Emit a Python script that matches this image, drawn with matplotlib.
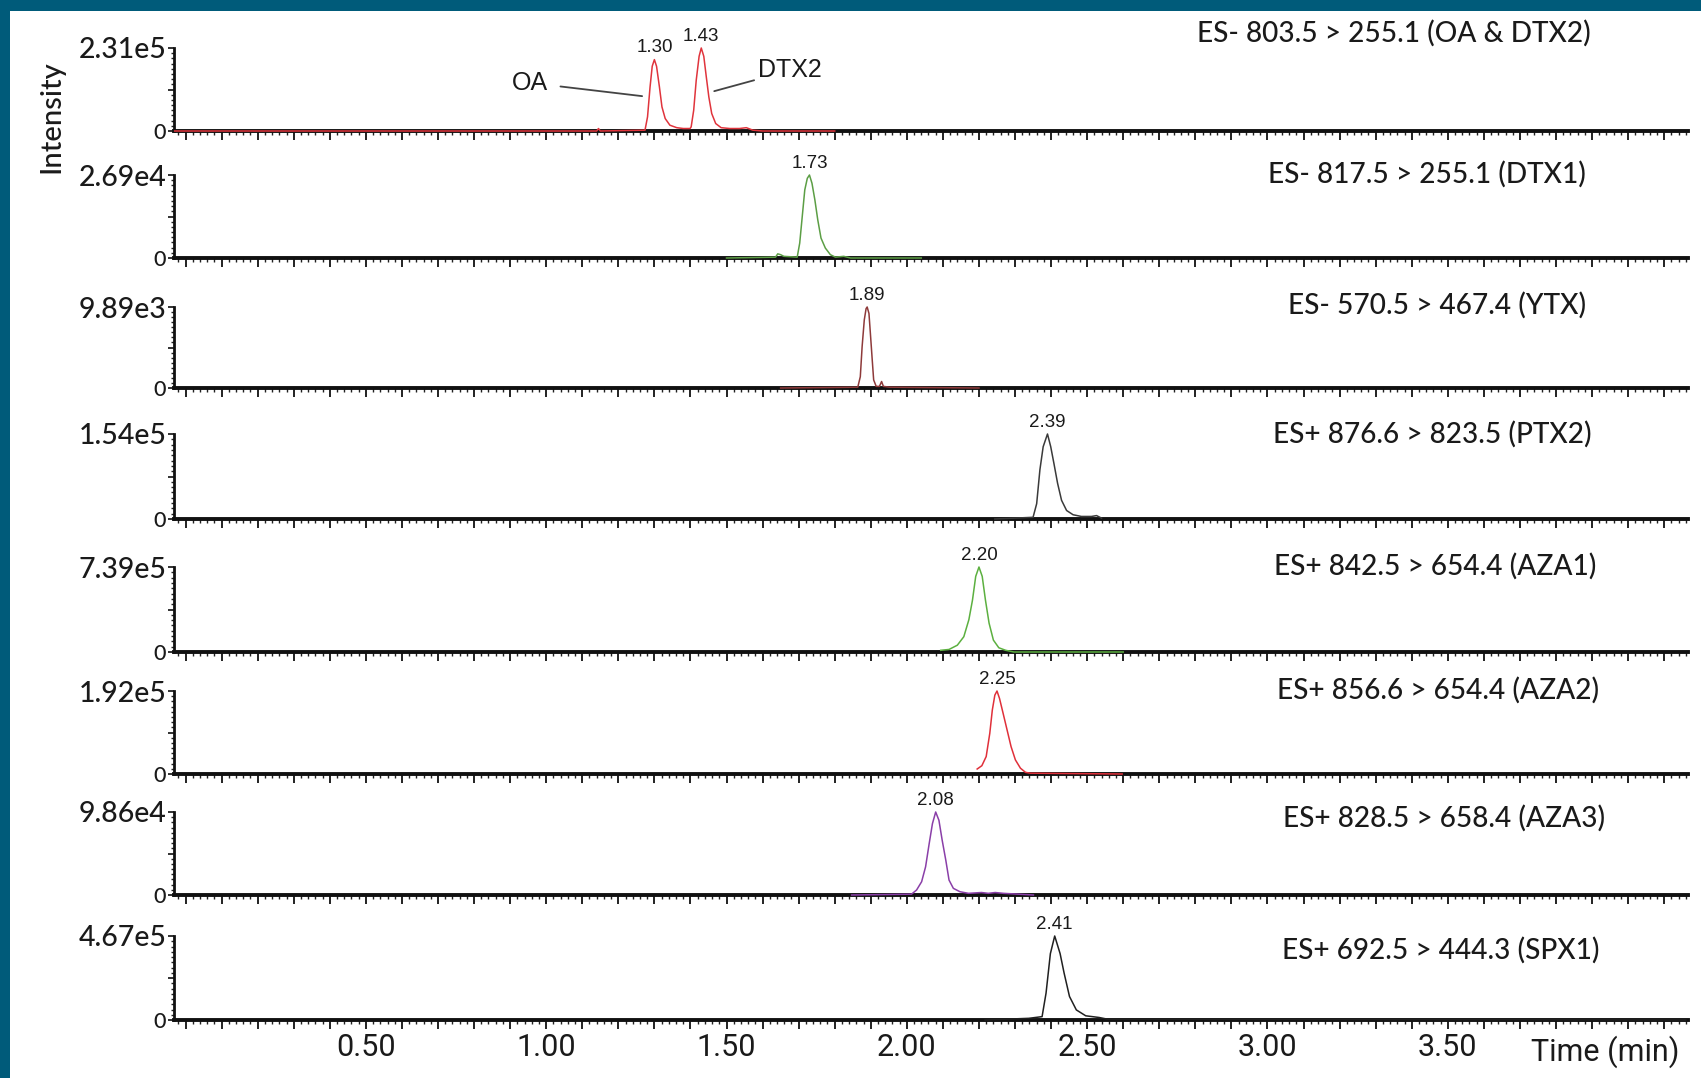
import matplotlib
matplotlib.use("Agg")
import numpy as np
import matplotlib.pyplot as plt
from matplotlib.patches import Rectangle
from matplotlib.ticker import MultipleLocator, FixedLocator
from matplotlib.transforms import blended_transform_factory

# MRM channels, full-scale intensity of each panel
channels = [
    "ES- 803.5 > 255.1 (OA & DTX2)",
    "ES- 817.5 > 255.1 (DTX1)",
    "ES- 570.5 > 467.4 (YTX)",
    "ES+ 876.6 > 823.5 (PTX2)",
    "ES+ 842.5 > 654.4 (AZA1)",
    "ES+ 856.6 > 654.4 (AZA2)",
    "ES+ 828.5 > 658.4 (AZA3)",
    "ES+ 692.5 > 444.3 (SPX1)",
]
full_scale = [2.31e5, 2.69e4, 9.89e3, 1.54e5, 7.39e5, 1.92e5, 9.86e4, 4.67e5]
trace_colors = ["#e0343c", "#5c9e45", "#8e3a3a", "#3a3a3a",
                "#5cb040", "#e0303a", "#8a3fa8", "#202020"]

# retention times of the labelled peaks (min)
peak_rt = [[1.30, 1.43], [1.73], [1.89], [2.39], [2.20], [2.25], [2.08], [2.41]]

# traces: time (min) and intensity in % of full scale
oa_dtx2_t = [-0.03, 0.50, 1.00, 1.140, 1.145, 1.150, 1.274, 1.281, 1.288, 1.294, 1.300,
             1.306, 1.314, 1.321, 1.330, 1.343, 1.362, 1.380, 1.399, 1.402, 1.409, 1.416,
             1.424, 1.430, 1.437, 1.444, 1.451, 1.459, 1.470, 1.485, 1.509, 1.536, 1.555,
             1.573, 1.60, 1.80]
oa_dtx2_i = [0, 0, 0, 0, 3, 0, 1, 17, 53, 78, 86,
             78, 53, 29, 15, 7, 4, 3, 3, 5, 25, 61,
             90, 100, 90, 65, 41, 21, 9, 4, 3, 3, 4,
             1, 0, 0]

dtx1_t = [1.50, 1.636, 1.642, 1.650, 1.659, 1.696, 1.703, 1.710, 1.717, 1.724, 1.730,
          1.737, 1.745, 1.753, 1.762, 1.774, 1.788, 1.802, 1.825, 1.844, 2.04]
dtx1_i = [0, 1, 5, 4, 2, 1, 18, 50, 82, 96, 100,
          90, 70, 46, 24, 12, 4, 1, 2, 0, 0]

ytx_t = [1.65, 1.864, 1.871, 1.876, 1.882, 1.887, 1.890, 1.895, 1.899, 1.904, 1.908,
         1.915, 1.924, 1.930, 1.935, 1.952, 2.20]
ytx_i = [0, 1, 14, 51, 84, 98, 100, 92, 67, 35, 10,
         2, 2, 8, 2, 1, 0]

ptx2_t = [2.244, 2.350, 2.360, 2.369, 2.378, 2.390, 2.399, 2.408, 2.418, 2.429, 2.443,
          2.461, 2.484, 2.512, 2.526, 2.540]
ptx2_i = [0, 2, 18, 58, 85, 100, 85, 65, 42, 22, 10,
          5, 3, 3, 4, 1]

aza1_t = [2.094, 2.117, 2.140, 2.158, 2.172, 2.182, 2.191, 2.200, 2.209, 2.218, 2.228,
          2.240, 2.255, 2.274, 2.297, 2.60]
aza1_i = [2, 3, 8, 18, 38, 61, 89, 100, 89, 61, 34,
          14, 5, 2, 0, 0]

aza2_t = [2.195, 2.208, 2.220, 2.230, 2.237, 2.244, 2.250, 2.257, 2.267, 2.278, 2.289,
          2.301, 2.315, 2.329, 2.342, 2.597]
aza2_i = [6, 10, 21, 49, 77, 95, 100, 91, 73, 53, 33,
          17, 7, 2, 1, 0]

aza3_t = [1.847, 2.013, 2.027, 2.041, 2.052, 2.062, 2.071, 2.080, 2.089, 2.098, 2.108,
          2.117, 2.129, 2.147, 2.171, 2.207, 2.226, 2.245, 2.268, 2.351]
aza3_i = [0, 1, 6, 16, 34, 62, 86, 100, 90, 66, 42,
          18, 8, 4, 2, 3, 2, 3, 2, 0]

spx1_t = [2.217, 2.338, 2.375, 2.386, 2.398, 2.410, 2.425, 2.436, 2.451, 2.470, 2.496,
          2.533, 2.556, 4.16]
spx1_i = [0, 2, 4, 32, 79, 100, 79, 56, 28, 12, 5,
          3, 1, 0]

traces = [(oa_dtx2_t, oa_dtx2_i), (dtx1_t, dtx1_i), (ytx_t, ytx_i), (ptx2_t, ptx2_i),
          (aza1_t, aza1_i), (aza2_t, aza2_i), (aza3_t, aza3_i), (spx1_t, spx1_i)]

time_ticks = [0.50, 1.00, 1.50, 2.00, 2.50, 3.00, 3.50]

# layout in pixels
W, H = 1701, 1078
ax_left, ax_right = 174, 1688
panel_top = [48, 175, 307, 434, 567, 691, 812, 936]
panel_zero = [131, 258, 388, 519, 652, 774, 895, 1020]
title_x = [1591, 1586, 1586, 1592, 1596, 1599, 1605, 1599]
title_y = [33, 174, 305, 434, 566, 690, 818, 950]

TEXT = "#1a1a1a"
LABEL_FONT = ["Lato", "DejaVu Sans"]
PEAK_FONT = ["Liberation Sans", "DejaVu Sans"]
AXIS_FONT = ["Roboto", "Lato", "DejaVu Sans"]


def sci_label(v):
    mant, exp = f"{v:.2e}".split("e")
    return f"{mant}e{int(exp)}"


fig = plt.figure(figsize=(W / 100, H / 100), dpi=100, facecolor="#005b7a")
fig.add_artist(Rectangle((10 / W, 0), 1, 1 - 11 / H, transform=fig.transFigure,
                         facecolor="white", edgecolor="none", zorder=0))

axes = []
for k in range(8):
    top, zero = panel_top[k], panel_zero[k]
    ax = fig.add_axes([ax_left / W, 1 - zero / H, (ax_right - ax_left) / W, (zero - top) / H])
    ax.set_facecolor("none")
    scale = full_scale[k]
    t, rel = traces[k]
    y = np.array(rel) / 100.0 * scale
    ax.plot(t, y, color=trace_colors[k], lw=1.1, zorder=5, clip_on=False)

    ax.set_xlim(-0.032, 4.166)
    ax.set_ylim(0, scale)
    for s in ("top", "right"):
        ax.spines[s].set_visible(False)
    ax.spines["left"].set_linewidth(2.0)
    ax.spines["bottom"].set_linewidth(2.8)
    ax.spines["left"].set_color("#111111")
    ax.spines["bottom"].set_color("#111111")

    ax.xaxis.set_major_locator(MultipleLocator(0.1))
    ax.xaxis.set_minor_locator(MultipleLocator(0.02))
    ax.tick_params(axis="x", which="major", direction="out", length=6.5, width=1.4,
                   color="#222222", labelbottom=False)
    ax.tick_params(axis="x", which="minor", direction="out", length=3.2, width=1.0,
                   color="#222222")

    ax.set_yticks([0, scale / 2, scale])
    ax.set_yticklabels(["0", "", sci_label(scale)])
    ax.yaxis.set_minor_locator(FixedLocator([scale * j / 16 for j in range(1, 16) if j != 8]))
    ax.tick_params(axis="y", which="major", direction="out", length=4.5, width=1.3,
                   color="#222222", pad=1)
    ax.tick_params(axis="y", which="minor", direction="out", length=2.5, width=1.0,
                   color="#222222")
    labels = ax.get_yticklabels()
    labels[0].set_fontsize(15.5)
    labels[2].set_fontsize(20.5)
    for lab in labels:
        lab.set_family(LABEL_FONT)
        lab.set_fontweight("medium")
        lab.set_color(TEXT)

    fig.text(title_x[k] / W, 1 - title_y[k] / H, channels[k], ha="right", va="center",
             fontsize=20.2, family=LABEL_FONT, fontweight="medium", color=TEXT)

    for rt in peak_rt[k]:
        apex = np.interp(rt, t, y)
        ax.annotate(f"{rt:.2f}", xy=(rt, apex), xytext=(0, 2.5), textcoords="offset points",
                    ha="center", va="bottom", fontsize=13.5, family=PEAK_FONT, color=TEXT,
                    annotation_clip=False)
    axes.append(ax)

# compound names in the first channel
ax0 = axes[0]
s0 = full_scale[0]
ax0.annotate("OA", xy=(1.266, 0.42 * s0), xytext=(0.955, 0.58 * s0),
             ha="center", va="center", fontsize=18, family=PEAK_FONT, color=TEXT,
             arrowprops=dict(arrowstyle="-", color="#444444", lw=1.3, shrinkA=7, shrinkB=0))
ax0.annotate("DTX2", xy=(1.466, 0.48 * s0), xytext=(1.588, 0.73 * s0),
             ha="left", va="center", fontsize=18, family=PEAK_FONT, color=TEXT,
             arrowprops=dict(arrowstyle="-", color="#444444", lw=1.3, shrinkA=1, shrinkB=0))

# time axis labels under the last channel
last = axes[-1]
trans = blended_transform_factory(last.transData, fig.transFigure)
for v in time_ticks:
    last.text(v, 1 - 1047 / H, f"{v:.2f}", transform=trans, ha="center", va="center",
              fontsize=22, family=AXIS_FONT, color=TEXT)
fig.text(1605 / W, 1 - 1052 / H, "Time (min)", ha="center", va="center",
         fontsize=22, family=AXIS_FONT, color=TEXT)

fig.text(51 / W, 1 - 117 / H, "Intensity", rotation=90, ha="center", va="center",
         fontsize=21, family=LABEL_FONT, fontweight="medium", color=TEXT)

fig.savefig("out.png", dpi=100, facecolor=fig.get_facecolor())
